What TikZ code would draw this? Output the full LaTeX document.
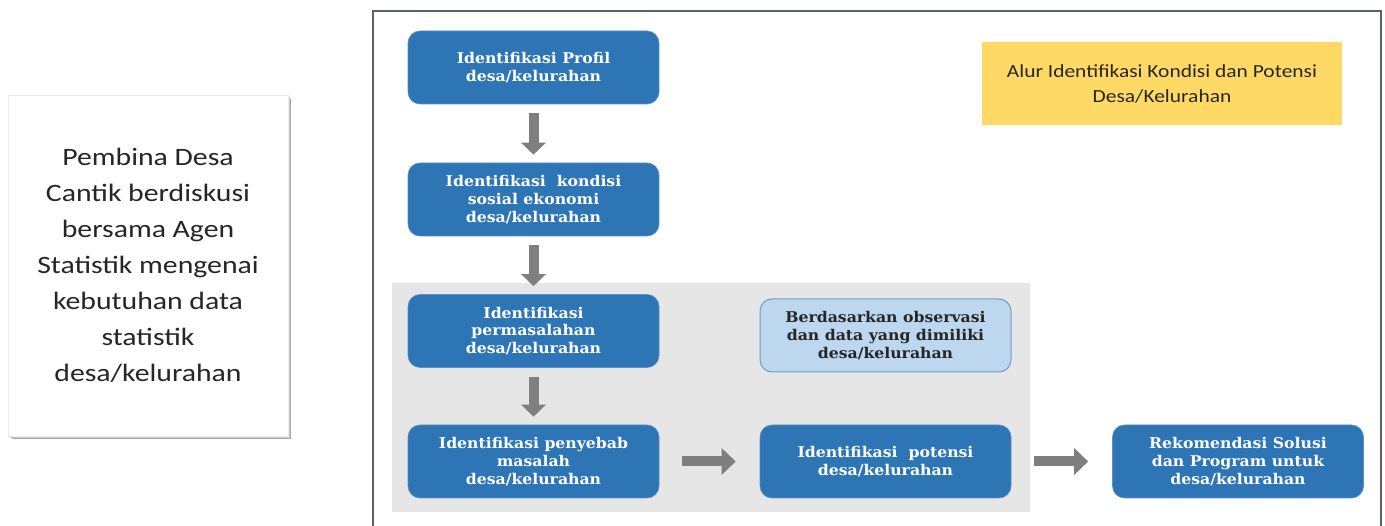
\documentclass[tikz,border=0pt]{standalone}
\usepackage{fontspec}
\setmainfont{DejaVu Serif}[FakeStretch=1.06]
\newfontfamily\calibri{Carlito}[FakeStretch=1.19]
\newfontfamily\calibrit{Carlito}[FakeStretch=1.16]
\usetikzlibrary{arrows.meta}
\definecolor{boxblue}{HTML}{2E75B6}
\definecolor{lightblue}{HTML}{BDD7EE}
\definecolor{arrgray}{HTML}{7F7F7F}
\definecolor{panelgray}{HTML}{E7E6E6}
\definecolor{yel}{HTML}{FFD966}
\definecolor{framec}{HTML}{59616B}
\tikzset{
  bluebox/.style={rectangle, rounded corners=12pt, fill=boxblue, draw=boxblue!80!white, line width=0.6pt,
    minimum width=251pt, minimum height=73pt, inner sep=2pt, align=center, text=white,
    font=\fontsize{14.8}{17.8}\selectfont\bfseries},
  lightbox/.style={bluebox, fill=lightblue, draw=boxblue!70!white, line width=1pt, text=black!85},
  varrow/.style={draw=arrgray, line width=10pt, -{Triangle[width=24pt,length=12pt]}, shorten <=9pt, shorten >=8pt},
  harrow/.style={draw=arrgray, line width=10pt, -{Triangle[width=26pt,length=14pt]}, shorten <=23pt, shorten >=24pt},
}
\begin{document}
\begin{tikzpicture}[x=1pt,y=-1pt]
\useasboundingbox (0,0) rectangle (1385,526);
\fill[white] (0,0) rectangle (1385,526);
% left box with shadow
\fill[black!35] (12,99) rectangle (291,439);
\fill[black!20] (10,97) rectangle (290,438);
\node[rectangle, fill=white, draw=black!8, minimum width=280pt, minimum height=341pt, align=center,
  font=\calibri\fontsize{25}{36}\selectfont, text=black!85] (left) at (148,265.5)
  {Pembina Desa\\Cantik berdiskusi\\bersama Agen\\Statistik mengenai\\kebutuhan data\\statistik\\desa/kelurahan};
% frame
\draw[framec, line width=2.5pt] (373,526) coordinate (fbl) -- (373,11) -- (1381,11) -- (1381,526);
% gray panel
\fill[panelgray] (392,283) rectangle (1030,512);
% yellow title
\node[rectangle, fill=yel, minimum width=360pt, minimum height=83pt, align=center,
  font=\calibrit\fontsize{18.5}{25}\selectfont, text=black!85] (title) at (1162,83.5)
  {Alur Identifikasi Kondisi dan Potensi\\Desa/Kelurahan};
% boxes
\node[bluebox] (b1) at (533.5,67.5) {Identifikasi Profil\\desa/kelurahan};
\node[bluebox] (b2) at (533.5,199.5) {Identifikasi~~kondisi\\sosial ekonomi\\desa/kelurahan};
\node[bluebox] (b3) at (533.5,331) {Identifikasi\\permasalahan\\desa/kelurahan};
\node[bluebox] (b4) at (533.5,461.5) {Identifikasi penyebab\\masalah\\desa/kelurahan};
\node[lightbox] (b5) at (885.5,335.5) {Berdasarkan observasi\\dan data yang dimiliki\\desa/kelurahan};
\node[bluebox] (b6) at (885.5,461.5) {Identifikasi~~potensi\\desa/kelurahan};
\node[bluebox] (b7) at (1238,461.5) {Rekomendasi Solusi\\dan Program untuk\\desa/kelurahan};
% arrows
\draw[varrow] (b1) -- (b2);
\draw[varrow] (b2) -- (b3);
\draw[varrow] (b3) -- (b4);
\draw[harrow] (b4) -- (b6);
\draw[harrow] (b6) -- (b7);
\end{tikzpicture}
\end{document}
